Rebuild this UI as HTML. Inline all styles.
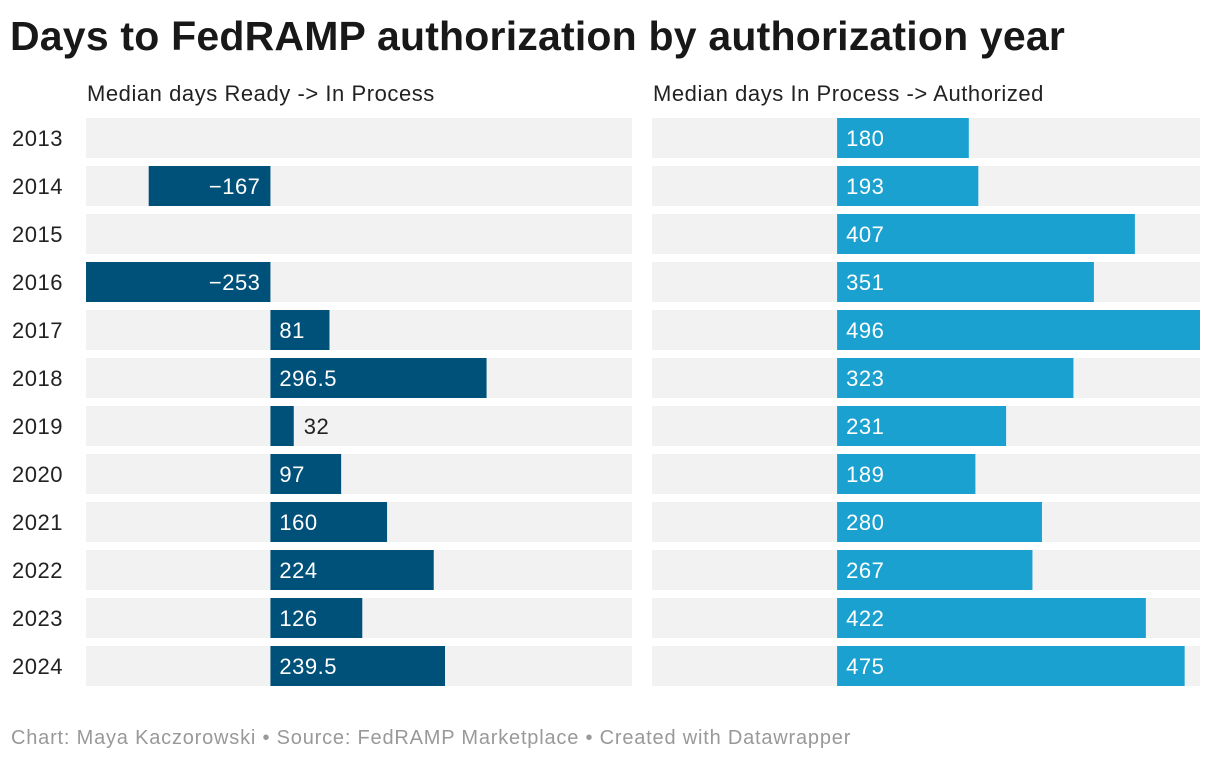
<!DOCTYPE html>
<html><head><meta charset="utf-8"><style>
body{margin:0;background:#fff;font-family:"Liberation Sans",sans-serif;}
#wrap{position:relative;width:1220px;height:762px;overflow:hidden}
h1{position:absolute;left:10px;top:13px;margin:0;font-size:41px;font-weight:bold;color:#181818;letter-spacing:0.2px}
.sub{position:absolute;top:81px;font-size:22px;color:#222;letter-spacing:0.55px}
.foot{position:absolute;left:11px;top:727px;font-size:20px;color:#999;letter-spacing:0.8px}
svg text{font-family:"Liberation Sans",sans-serif;letter-spacing:0.5px}
</style></head><body>
<div id="wrap">
<h1>Days to FedRAMP authorization by authorization year</h1>
<div class="sub" style="left:87px">Median days Ready -&gt; In Process</div>
<div class="sub" style="left:653px">Median days In Process -&gt; Authorized</div>
<svg id="svg" width="1220" height="762" style="position:absolute;left:0;top:0"></svg>
<div class="foot">Chart: Maya Kaczorowski • Source: FedRAMP Marketplace • Created with Datawrapper</div>
</div>
<script>
const years=["2013","2014","2015","2016","2017","2018","2019","2020","2021","2022","2023","2024"];
const readyToProcess=[null,-167,null,-253,81,296.5,32,97,160,224,126,239.5];
const processToAuth=[180,193,407,351,496,323,231,189,280,267,422,475];
const domainMin=-253, domainMax=496;
const NS="http://www.w3.org/2000/svg";
const svg=document.getElementById('svg');
function el(t,a){const e=document.createElementNS(NS,t);for(const k in a)e.setAttribute(k,a[k]);svg.appendChild(e);return e;}
function xs(x0,w){return v=>x0+(v-domainMin)/(domainMax-domainMin)*w;}
const yOf=i=>118+i*48, bh=40;
const panels=[{x0:86,w:546,data:readyToProcess,color:"#00517a",name:"ready-to-in-process"},
{x0:652,w:548,data:processToAuth,color:"#1aa1cf",name:"in-process-to-authorized"}];
years.forEach((y,i)=>{
 const t=el('text',{x:12,y:yOf(i)+28,'font-size':22,fill:'#222'});t.textContent=y;
 
 
});
panels.forEach(p=>{
 const x=xs(p.x0,p.w);
 p.data.forEach((v,i)=>{
  const bg=el('rect',{x:p.x0,y:yOf(i),width:p.w,height:bh,fill:'#f2f2f2'});
  
  
  if(v===null)return;
  const a=x(Math.min(0,v)),b=x(Math.max(0,v));
  const r=el('rect',{x:a,y:yOf(i),width:b-a,height:bh,fill:p.color});
  
  
  const lbl=v<0?'\u2212'+Math.abs(v):String(v);
  let t;
  if(v<0){t=el('text',{x:x(0)-10,y:yOf(i)+28,'font-size':22,fill:'#fff','text-anchor':'end'});}
  else if(b-a<45){t=el('text',{x:b+10,y:yOf(i)+28,'font-size':22,fill:'#222'});}
  else{t=el('text',{x:a+9,y:yOf(i)+28,'font-size':22,fill:'#fff'});}
  t.textContent=lbl;
  
  
 });
});
</script>
</body></html>
